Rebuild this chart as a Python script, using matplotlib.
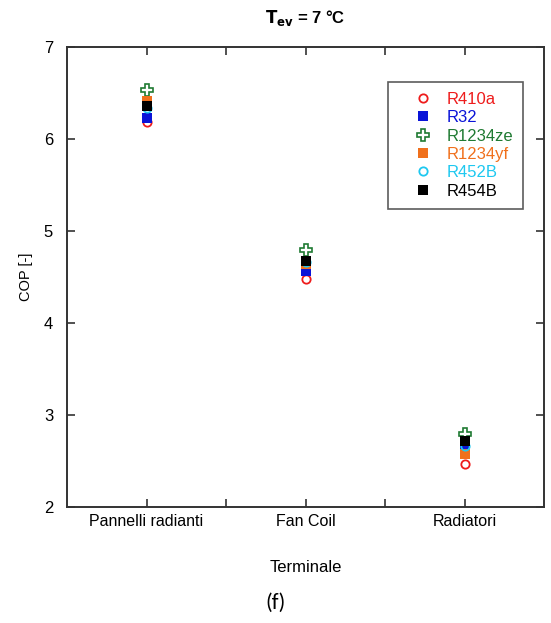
import matplotlib
matplotlib.use('Agg')
import matplotlib.pyplot as plt

# --- fonts ---
plt.rcParams['font.family'] = ['Liberation Sans', 'DejaVu Sans']

# --- data ---
terminals = ['Pannelli radianti', 'Fan Coil', 'Radiatori']
terminal_pos = [1, 3, 5]

refrigerants = ['R410a', 'R32', 'R1234ze', 'R1234yf', 'R452B', 'R454B']
cop_R410a = [6.18, 4.48, 2.47]
cop_R32 = [6.23, 4.57, 2.66]
cop_R1234ze = [6.53, 4.79, 2.79]
cop_R1234yf = [6.41, 4.64, 2.58]
cop_R452B = [6.34, 4.66, 2.66]
cop_R454B = [6.36, 4.67, 2.72]

# --- styles ---
colors = ['#ee1c1c', '#0a14d8', '#1f7a32', '#f0701c', '#1ec8f0', '#000000']
marker_styles = [
    dict(marker='o', ms=6, mfc='none', mew=1.3),
    dict(marker='s', ms=6.5, mew=0),
    dict(marker='P', ms=8, mfc='none', mew=1.2),
    dict(marker='s', ms=6.5, mew=0),
    dict(marker='o', ms=6, mfc='none', mew=1.3),
    dict(marker='s', ms=6.5, mew=0),
]
series = [cop_R410a, cop_R32, cop_R1234ze, cop_R1234yf, cop_R452B, cop_R454B]
axis_color = '#333333'

fig = plt.figure(figsize=(5.51, 6.23), dpi=100)
ax = fig.add_axes([67/551, 1 - 507/623, 477/551, 460/623])

for name, vals, col, ms in zip(refrigerants, series, colors, marker_styles):
    ax.plot(terminal_pos, vals, linestyle='none', color=col, mec=col, label=name, **ms)

ax.set_xlim(0, 6)
ax.set_ylim(2, 7)
ax.set_xticks([1, 2, 3, 4, 5])
ax.set_xticklabels([terminals[0], '', terminals[1], '', terminals[2]])
ax.set_yticks([2, 3, 4, 5, 6, 7])

ax.tick_params(direction='in', top=True, right=True, length=6, width=1.2,
               color=axis_color, labelsize=11.5, pad=5)
ax.tick_params(axis='y', pad=10, labelsize=12)
for sp in ax.spines.values():
    sp.set_color(axis_color)
    sp.set_linewidth(1.4)

ax.set_ylabel('COP [-]', fontsize=10.5, labelpad=8)
ax.set_xlabel('Terminale', fontsize=12, labelpad=22)
ax.set_title(r'$\mathbf{T_{ev}}$' + ' = 7 °C', fontsize=12, fontweight='bold', pad=17)

leg = ax.legend(loc='upper right', bbox_to_anchor=(0.956, 0.924), frameon=True,
                fancybox=False, fontsize=12, handlelength=3.0, handletextpad=-0.1,
                borderpad=0.6, labelspacing=0.2, borderaxespad=0)
leg.get_frame().set_edgecolor(axis_color)
leg.get_frame().set_linewidth(1.2)
for txt, col in zip(leg.get_texts(), colors):
    txt.set_color(col)

fig.text(0.5, 1 - 603/623, '(f)', ha='center', va='center', fontsize=16,
         family=['Carlito', 'Liberation Sans', 'DejaVu Sans'])

fig.savefig('out.png', dpi=100)
